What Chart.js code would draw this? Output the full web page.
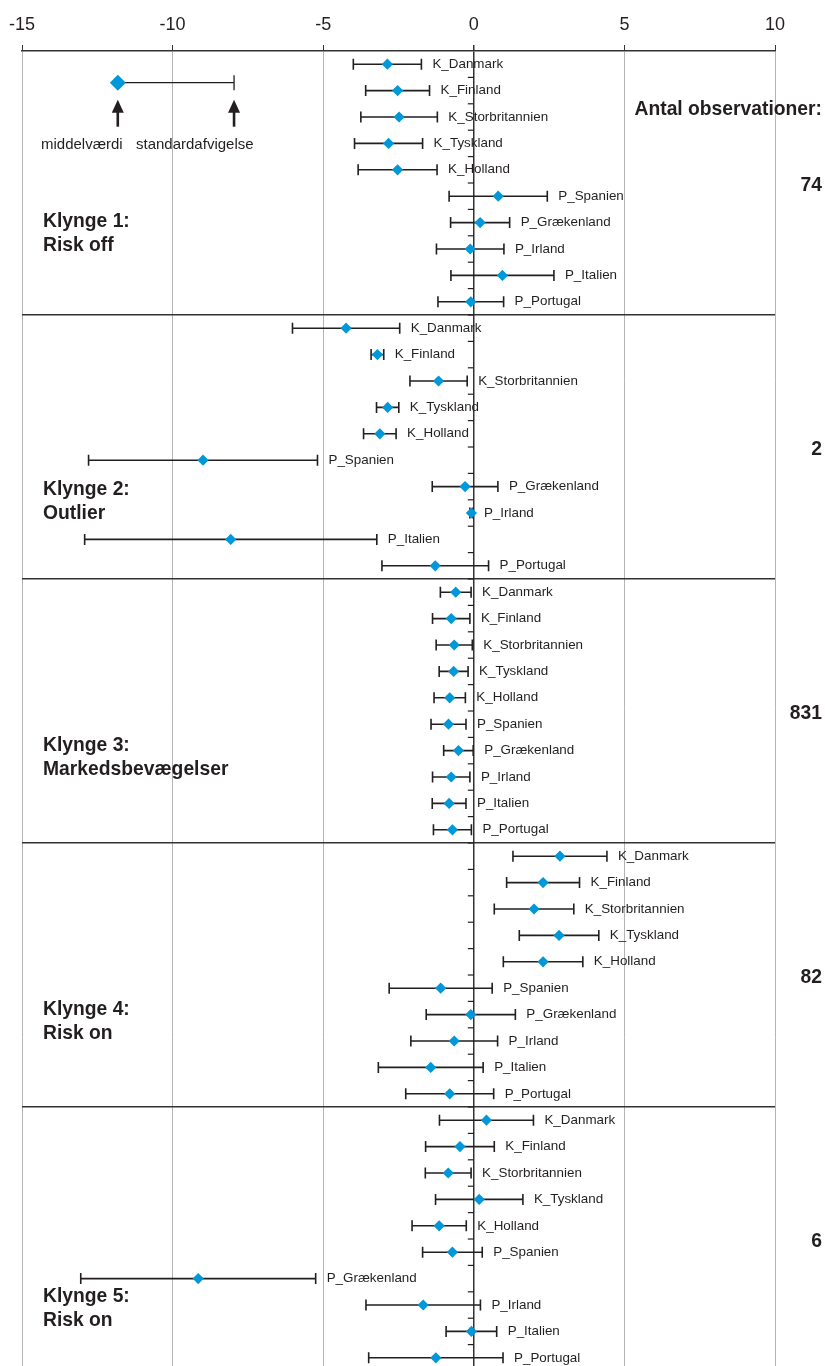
<!DOCTYPE html>
<html>
<head>
<meta charset="utf-8">
<script src="https://cdn.jsdelivr.net/npm/chart.js@4/dist/chart.umd.min.js"></script>
<style>
  body { margin: 0; background: #fff; }
  canvas { display: block; }
</style>
</head>
<body>
<canvas id="myChart" width="825" height="1366"></canvas>
<script>
// Data: mean and standard deviation per cluster
const countries = ['K_Danmark', 'K_Finland', 'K_Storbritannien', 'K_Tyskland', 'K_Holland',
                   'P_Spanien', 'P_Grækenland', 'P_Irland', 'P_Italien', 'P_Portugal'];
const clusterTitles = [['Klynge 1:', 'Risk off'], ['Klynge 2:', 'Outlier'], ['Klynge 3:', 'Markedsbevægelser'],
                       ['Klynge 4:', 'Risk on'], ['Klynge 5:', 'Risk on']];
const observations = [74, 2, 831, 82, 6];
const xTicks = [-15, -10, -5, 0, 5, 10];

const mean1 = [-2.87, -2.53, -2.48, -2.83, -2.53, 0.81, 0.21, -0.12, 0.95, -0.10];
const sd1   = [1.13, 1.06, 1.27, 1.13, 1.31, 1.63, 0.98, 1.12, 1.71, 1.09];
const mean2 = [-4.24, -3.20, -1.17, -2.86, -3.12, -8.99, -0.29, -0.08, -8.07, -1.28];
const sd2   = [1.78, 0.21, 0.95, 0.37, 0.54, 3.80, 1.09, 0.05, 4.85, 1.77];
const mean3 = [-0.60, -0.75, -0.65, -0.67, -0.80, -0.84, -0.51, -0.75, -0.82, -0.71];
const sd3   = [0.51, 0.62, 0.60, 0.48, 0.52, 0.58, 0.49, 0.62, 0.56, 0.63];
const mean4 = [2.86, 2.30, 2.00, 2.83, 2.30, -1.10, -0.10, -0.65, -1.43, -0.80];
const sd4   = [1.56, 1.21, 1.32, 1.32, 1.32, 1.71, 1.48, 1.44, 1.74, 1.46];
const mean5 = [0.42, -0.46, -0.85, 0.18, -1.15, -0.71, -9.15, -1.68, -0.08, -1.26];
const sd5   = [1.56, 1.14, 0.76, 1.45, 0.90, 0.99, 3.90, 1.90, 0.84, 2.23];

// sample mark used in the explanation box (middelværdi / standardafvigelse)
const sampleMean = [-11.82];
const sampleSd = [3.86];

const means = [mean1, mean2, mean3, mean4, mean5];
const sds = [sd1, sd2, sd3, sd4, sd5];

var points = [];
means.forEach(function (m, c) {
    m.forEach(function (v, i) {
        points.push({ x: v, y: c * 10 + i + 0.5, sd: sds[c][i], label: countries[i] });
    });
});

const FONT = "'Liberation Sans', Arial, Helvetica, sans-serif";
const INK = '#231f20';
const BLUE = '#0098d8';

// Draws error bars, the axis ticks on the 0 line and all the text
const errorBars = {
    id: 'errorBars',
    beforeDatasetsDraw(chart) {
        const ctx = chart.ctx, x = chart.scales.x, y = chart.scales.y;
        ctx.save();
        ctx.strokeStyle = INK;
        // small ticks on the zero line
        ctx.lineWidth = 1.2;
        const x0 = x.getPixelForValue(0);
        for (let k = 1; k < 50; k++) {
            const yy = y.getPixelForValue(k);
            ctx.beginPath();
            ctx.moveTo(x0 - 6, yy);
            ctx.lineTo(x0, yy);
            ctx.stroke();
        }
        chart.data.datasets.forEach(function (ds) {
            const cap = ds.capSize;
            ctx.lineWidth = ds.barWidth;
            ds.data.forEach(function (p) {
                const yy = y.getPixelForValue(p.y);
                const xl = x.getPixelForValue(p.x - p.sd);
                const xr = x.getPixelForValue(p.x + p.sd);
                const xs = ds.oneSided ? x.getPixelForValue(p.x) : xl;
                ctx.beginPath();
                ctx.moveTo(xs, yy);
                ctx.lineTo(xr, yy);
                if (!ds.oneSided) {
                    ctx.moveTo(xl, yy - cap);
                    ctx.lineTo(xl, yy + cap);
                }
                ctx.moveTo(xr, yy - cap);
                ctx.lineTo(xr, yy + cap);
                ctx.stroke();
            });
        });
        ctx.restore();
    },
    afterDatasetsDraw(chart) {
        const ctx = chart.ctx, x = chart.scales.x, y = chart.scales.y;
        ctx.save();
        ctx.fillStyle = INK;
        ctx.textBaseline = 'middle';

        // country labels
        ctx.font = '13.4px ' + FONT;
        ctx.textAlign = 'left';
        points.forEach(function (p) {
            ctx.fillText(p.label, x.getPixelForValue(p.x + p.sd) + 11, y.getPixelForValue(p.y));
        });

        // explanation arrows and texts
        const sx = x.getPixelForValue(sampleMean[0]);
        const ex = x.getPixelForValue(sampleMean[0] + sampleSd[0]);
        const sy = y.getPixelForValue(1.2);
        [sx, ex].forEach(function (ax) {
            ctx.beginPath();
            ctx.moveTo(ax, sy + 17);
            ctx.lineTo(ax - 6, sy + 30);
            ctx.lineTo(ax + 6, sy + 30);
            ctx.closePath();
            ctx.fill();
            ctx.fillRect(ax - 1.3, sy + 29, 2.6, 15);
        });
        ctx.font = '15px ' + FONT;
        ctx.textAlign = 'left';
        ctx.fillText('middelværdi', 41, sy + 62);
        ctx.fillText('standardafvigelse', 136, sy + 62);

        // cluster titles
        const titleRows = [6.47, 16.63, 26.33, 36.3, 47.19];
        ctx.font = 'bold 19.3px ' + FONT;
        clusterTitles.forEach(function (t, c) {
            const yy = y.getPixelForValue(titleRows[c]);
            ctx.fillText(t[0], 43, yy);
            ctx.fillText(t[1], 43, yy + 24);
        });

        // observation counts
        ctx.textAlign = 'right';
        ctx.fillText('Antal observationer:', 822, y.getPixelForValue(2.23));
        observations.forEach(function (n, c) {
            ctx.fillText(String(n), 822, y.getPixelForValue(c * 10 + 5.1));
        });
        ctx.restore();
    }
};

var ctx = document.getElementById('myChart').getContext('2d');
var myChart = new Chart(ctx, {
    type: 'scatter',
    data: {
        datasets: [{
            data: points,
            pointStyle: 'rectRot',
            pointRadius: 5.6,
            pointBorderWidth: 0,
            backgroundColor: BLUE,
            borderColor: BLUE,
            barWidth: 1.6,
            capSize: 5.5
        }, {
            data: sampleMean.map(function (v, i) { return { x: v, y: 1.2, sd: sampleSd[i] }; }),
            pointStyle: 'rectRot',
            pointRadius: 8,
            pointBorderWidth: 0,
            backgroundColor: BLUE,
            borderColor: BLUE,
            barWidth: 1.3,
            capSize: 7.5,
            oneSided: true
        }]
    },
    options: {
        responsive: false,
        animation: false,
        layout: { autoPadding: false, padding: { left: 22, right: 50, top: 0, bottom: 0 } },
        plugins: { legend: { display: false }, tooltip: { enabled: false } },
        scales: {
            x: {
                type: 'linear',
                position: 'top',
                min: xTicks[0],
                max: xTicks[xTicks.length - 1],
                afterFit: function (s) { s.height = 51; },
                afterBuildTicks: function (s) { s.ticks = xTicks.map(function (v) { return { value: v }; }); },
                ticks: {
                    font: { family: FONT, size: 18 },
                    color: INK,
                    padding: 9
                },
                grid: {
                    color: function (c) { return c.tick && c.tick.value === 0 ? '#333' : '#b4b4b4'; },
                    lineWidth: function (c) { return c.tick && c.tick.value === 0 ? 1.5 : 1; },
                    tickColor: '#333',
                    tickLength: 6
                },
                border: { color: '#333', width: 1.6 }
            },
            y: {
                type: 'linear',
                reverse: true,
                min: 0,
                max: 49.81,
                afterFit: function (s) { s.width = 0; },
                ticks: { display: false, stepSize: 10 },
                grid: {
                    color: function (c) {
                        var v = c.tick && c.tick.value;
                        return (v === 10 || v === 20 || v === 30 || v === 40) ? '#333' : 'rgba(0,0,0,0)';
                    },
                    lineWidth: 1.5,
                    drawTicks: false
                },
                border: { display: false }
            }
        }
    },
    plugins: [errorBars]
});
</script>
</body>
</html>
